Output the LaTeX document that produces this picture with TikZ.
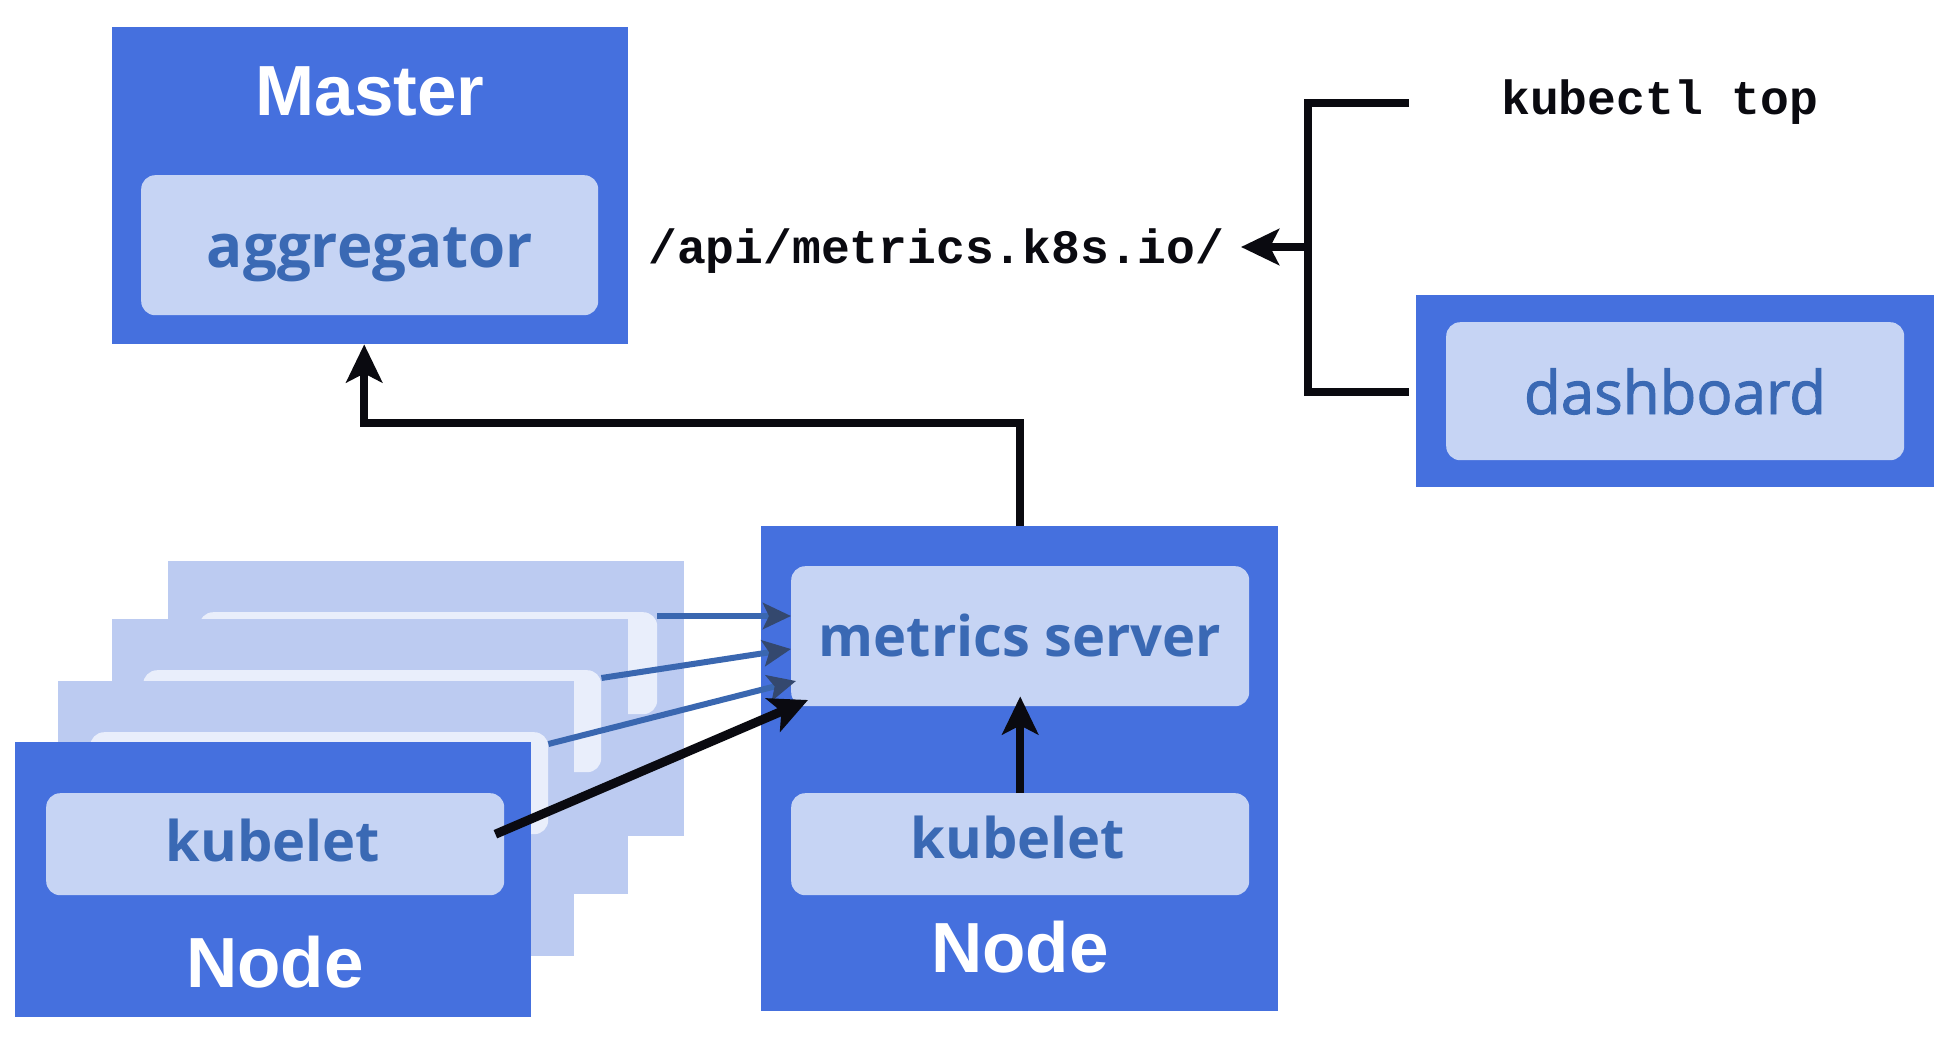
\documentclass[tikz,border=0pt]{standalone}
\usepackage{fontspec}
\setmainfont{Open Sans}
\newfontfamily\headfont{Liberation Sans}
\newfontfamily\codefont{Liberation Mono}
\newfontfamily\dashfont[FakeBold=1.6]{Open Sans}
\usetikzlibrary{arrows.meta}
\definecolor{mblue}{HTML}{4570DE}
\definecolor{lightfill}{HTML}{C6D4F4}
\definecolor{txtblue}{HTML}{3A69B4}
\definecolor{layerfill}{HTML}{BCCBF1}
\definecolor{layerinner}{HTML}{E9EEFB}
\definecolor{blk}{HTML}{0A0A10}
\definecolor{arrblue}{HTML}{3A67B0}
\definecolor{arrhead}{HTML}{34486E}
\begin{document}
\begin{tikzpicture}[x=1pt,y=-1pt,
  outerbox/.style={fill=mblue, draw=none, anchor=north west, inner sep=0pt},
  innerbox/.style={fill=lightfill, draw=none, rounded corners=14pt, anchor=north west, inner sep=0pt},
  layerbox/.style={fill=layerfill, draw=none, anchor=north west, inner sep=0pt, minimum width=516pt, minimum height=275pt},
  layerin/.style={fill=layerinner, draw=none, rounded corners=14pt, anchor=north west, inner sep=0pt, minimum width=458pt, minimum height=102pt},
  headtxt/.style={anchor=base, text=white, inner sep=0pt, font=\headfont\bfseries\fontsize{71}{80}\selectfont},
  comptxt/.style={anchor=base, text=txtblue, inner sep=0pt, font=\bfseries\fontsize{56}{62}\selectfont},
  codetxt/.style={anchor=base west, text=blk, inner sep=0pt, font=\codefont\bfseries\fontsize{48}{56}\selectfont},
  blkline/.style={draw=blk, line width=8pt, line join=miter},
  blkarrow/.style={draw=blk, line width=8pt, line join=miter, -{Stealth[length=38pt, width=36pt, inset=9pt]}},
  bluearrow/.style={draw=arrblue, line width=6pt, -{Stealth[length=28pt, width=26pt, inset=6pt, color=arrhead, fill=arrhead]}}
]
\fill[white] (0,0) rectangle (1950,1038);
\useasboundingbox (0,0) rectangle (1950,1038);

% Master
\node[outerbox, minimum width=516pt, minimum height=317pt] (master) at (112,27) {};
\node[innerbox, minimum width=457pt, minimum height=140pt] (aggr) at (141,175) {};
\node[headtxt] (mastertxt) at (370,116) {Master};
\node[comptxt, font=\bfseries\fontsize{60}{66}\selectfont] (aggrtxt) at (370,267) {aggregator};

% API text and kubectl
\node[codetxt] (api) at (648,263) {/api/metrics.k8s.io/};
\node[codetxt] (kubectl) at (1501,114) {kubectl top};

% Dashboard
\node[outerbox, minimum width=518pt, minimum height=192pt] (dash) at (1416,295) {};
\node[innerbox, minimum width=458pt, minimum height=138pt] (dashin) at (1446,322) {};
\node[comptxt, font=\dashfont\fontsize{60}{66}\selectfont] (dashtxt) at (1675,414) {dashboard};

% Bracket
\coordinate (kt) at (1409,103);
\coordinate (brtop) at (1308,103);
\coordinate (brbot) at (1308,392);
\coordinate (brmid) at (1308,247);
\coordinate (apitip) at (1241,247);
\draw[blkline] (kt) -- (brtop) -- (brbot) -- ([xshift=-7pt]dash.west |- brbot);
\draw[blkarrow] (brmid) -- (apitip);

% Stacked back layers
\node[layerbox] (layA) at (168,561) {};
\node[layerin] (inA) at (199,612) {};
\node[layerbox] (layB) at (112,619) {};
\node[layerin] (inB) at (143,670) {};
\node[layerbox] (layC) at (58,681) {};
\node[layerin] (inC) at (90,732) {};

% Front node
\node[outerbox, minimum width=516pt, minimum height=275pt] (fnode) at (15,742) {};
\node[innerbox, minimum width=458pt, minimum height=102pt] (kub1) at (46,793) {};
\node[comptxt] (kub1txt) at (273,861) {kubelet};
\node[headtxt] (fnodetxt) at (275,987) {Node};

% Right node
\node[outerbox, minimum width=517pt, minimum height=485pt] (rnode) at (761,526) {};
\node[innerbox, minimum width=458pt, minimum height=140pt] (metrics) at (791,566) {};
\node[innerbox, minimum width=458pt, minimum height=102pt] (kub2) at (791,793) {};
\node[comptxt] (metricstxt) at (1020,656) {metrics server};
\node[comptxt] (kub2txt) at (1018,858) {kubelet};
\node[headtxt] (rnodetxt) at (1020,972) {Node};

% Arrows
\draw[blkarrow] (rnode.north) -- ++(0,-103) -| ([xshift=-6pt]master.south);
\draw[blkarrow] (kub2.north) -- ([yshift=10pt]metrics.south);
\draw[bluearrow] ([yshift=-4pt]inA.north east) -- ([yshift=-50pt]metrics.north west);
\draw[bluearrow] ([yshift=-8pt]inB.north east) -- ([yshift=-83pt]metrics.north west);
\draw[bluearrow] ([yshift=-12pt]inC.north east) -- ([xshift=5pt,yshift=-115pt]metrics.north west);
\draw[blkarrow, line width=9pt] ([xshift=-9pt,yshift=10pt]kub1.east) -- ([xshift=17pt,yshift=-134pt]metrics.north west);
\end{tikzpicture}
\end{document}
